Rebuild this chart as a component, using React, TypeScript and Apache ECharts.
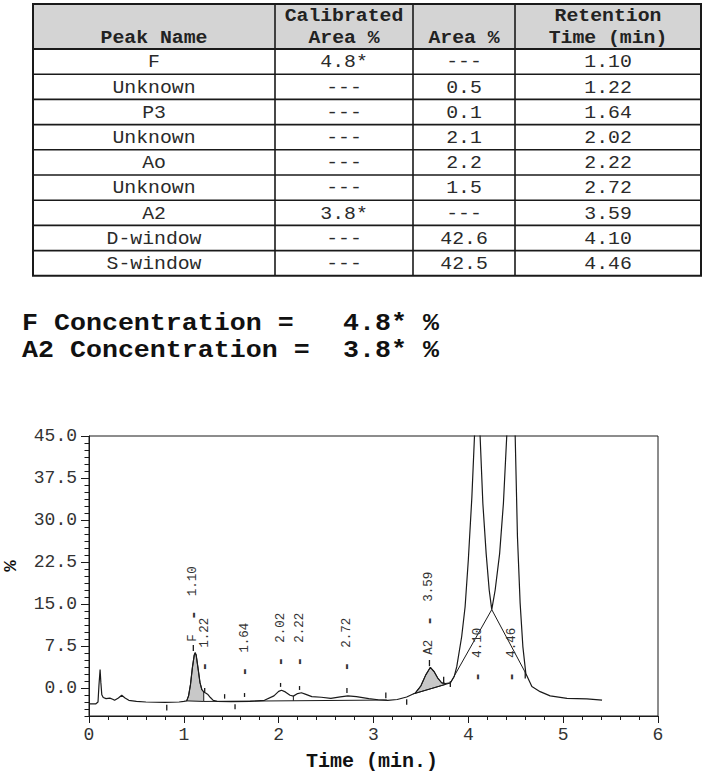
import React, { useEffect, useRef } from "react";
import * as echarts from "echarts";

// ---------- Table data ----------
const tablePeakNames = ["F", "Unknown", "P3", "Unknown", "Ao", "Unknown", "A2", "D-window", "S-window"];
const tableCalibrated = ["4.8*", "---", "---", "---", "---", "---", "3.8*", "---", "---"];
const tableArea = ["---", "0.5", "0.1", "2.1", "2.2", "1.5", "---", "42.6", "42.5"];
const tableRetention = ["1.10", "1.22", "1.64", "2.02", "2.22", "2.72", "3.59", "4.10", "4.46"];

// ---------- Concentrations ----------
const concLabels = ["F Concentration =", "A2 Concentration ="];
const concValues = ["4.8* %", "3.8* %"];

// ---------- Axis ticks / titles ----------
const yTickValues = [0, 7.5, 15, 22.5, 30, 37.5, 45];
const xAxisTitle = "Time (min.)";
const yAxisTitle = "%";

// ---------- Chromatogram trace ----------
const traceTime = [0, 0.07, 0.095, 0.105, 0.117, 0.125, 0.135, 0.15, 0.18, 0.22, 0.25, 0.27, 0.31, 0.345, 0.38, 0.42, 0.5, 0.6, 0.8, 0.95,
  1.0, 1.03, 1.05, 1.07, 1.09, 1.11, 1.12, 1.13, 1.15, 1.17, 1.19, 1.21, 1.23, 1.25, 1.28, 1.31, 1.35, 1.5, 1.7, 1.85,
  1.95, 2.0, 2.03, 2.07, 2.12, 2.155, 2.2, 2.24, 2.28, 2.35, 2.45, 2.55, 2.65, 2.73, 2.82, 2.95, 3.05, 3.15, 3.25, 3.35,
  3.44, 3.5, 3.55, 3.6, 3.64, 3.68, 3.72, 3.76, 3.81, 3.85, 3.878, 3.93, 3.966, 4.0, 4.037, 4.065, 4.095, 4.124, 4.153, 4.188,
  4.22, 4.247, 4.283, 4.33, 4.37, 4.405, 4.45, 4.494, 4.518, 4.546, 4.575, 4.606, 4.67, 4.757, 4.863, 5.04, 5.25, 5.41];
const traceValue = [-2.85, -2.85, -2.5, 0.5, 3.3, 1.0, -1.2, -1.7, -1.9, -1.8, -2.0, -2.2, -1.8, -1.3, -1.8, -2.2, -2.4, -2.5, -2.55, -2.5,
  -2.4, -2.3, -1.4, 0.6, 3.6, 5.9, 6.3, 5.9, 3.5, 1.0, -0.3, -0.7, -0.9, -1.1, -1.7, -2.2, -2.4, -2.45, -2.4, -2.2,
  -1.4, -0.6, -0.4, -0.7, -1.3, -1.45, -1.0, -0.85, -1.1, -1.55, -1.65, -1.85, -1.6, -1.4, -1.55, -1.9, -2.1, -2.2, -2.05, -1.6,
  -0.9, 0.4, 2.3, 3.7, 2.9, 1.7, 0.9, 0.8, 0.9, 2.0, 3.8, 9.2, 14.5, 22.9, 34, 45, 95, 45, 33, 24,
  17.5, 14, 17.5, 24, 33, 45, 95, 45, 27, 15.2, 7.4, 2.6, 0.25, -0.65, -1.4, -1.85, -1.95, -2.15];

// ---------- Integration baselines ----------
const baselineSegments: number[][][] = [
  [[1.21, -2.4], [3.14, -2.15]],
  [[2.155, -1.45], [2.155, -2.28]],
  [[3.42, -1.05], [3.81, 0.9]],
  [[3.81, 0.9], [4.247, 14], [4.606, 2.6]],
];

// ---------- Shaded (calibrated) peaks ----------
const shadeStart = [1.03, 3.44];
const shadeEnd = [1.21, 3.76];
const shadeBaseStart = [-2.3, -0.95];
const shadeBaseEnd = [-2.4, 0.65];

// ---------- Peak labels ----------
const peakRT = [1.10, 1.22, 1.64, 2.02, 2.22, 2.72, 3.59, 4.10, 4.46];
const peakRTText = ["1.10", "1.22", "1.64", "2.02", "2.22", "2.72", "3.59", "4.10", "4.46"];
const peakLabelName = ["F", "", "", "", "", "", "A2", "", ""];
const peakDashLevel = [13.0, 3.8, 2.9, 4.7, 4.7, 3.8, 12.0, 2.0, 2.0];
const apexTickTop: (number | null)[] = [7.7, 0.0, -0.9, 0.9, 0.35, 0.0, 5.0, null, null];
const apexTickBottom: (number | null)[] = [6.6, -0.7, -1.6, 0.2, -0.35, -0.9, 3.9, null, null];

// ---------- Integration event marks ----------
const eventTime = [0.82, 1.43, 1.54, 3.13, 3.35, 3.74, 3.81, 4.6];
const eventTop = [-3.0, -1.1, -2.9, -0.8, -2.0, 2.0, 1.2, 2.9];
const eventBottom = [-4.0, -1.9, -3.8, -1.85, -3.0, 0.9, 0.2, 1.7];

const MONO = "Liberation Mono";
const INK = "#1a1a1a";

function buildGraphic() {
  const els: any[] = [];
  const L = 33, R = 701, T = 4, HB = 49, RH = 25.2;
  const B = HB + RH * tablePeakNames.length;
  const cols = [33, 275, 413, 515, 701];
  els.push({ type: "rect", shape: { x: L, y: T, width: R - L, height: HB - T }, style: { fill: "#d4d4d4" } });
  for (let i = 1; i < tablePeakNames.length; i++) {
    const y = HB + RH * i;
    els.push({ type: "line", shape: { x1: L, y1: y, x2: R, y2: y }, style: { stroke: INK, lineWidth: 1.6 } });
  }
  els.push({ type: "line", shape: { x1: L, y1: HB, x2: R, y2: HB }, style: { stroke: INK, lineWidth: 2 } });
  for (let c = 1; c < cols.length - 1; c++) {
    els.push({ type: "line", shape: { x1: cols[c], y1: T, x2: cols[c], y2: B }, style: { stroke: INK, lineWidth: 1.6 } });
  }
  els.push({ type: "rect", shape: { x: L, y: T, width: R - L, height: B - T }, style: { fill: "none", stroke: INK, lineWidth: 2 } });

  const centers = cols.slice(0, -1).map((c, i) => (c + cols[i + 1]) / 2);
  const headTxt = (text: string, x: number, y: number) => ({
    type: "text", x, y, scaleX: 1.1,
    style: { text, fontFamily: MONO, fontSize: 18, fontWeight: "bold", fill: "#222", align: "center", textAlign: "center", verticalAlign: "middle", textVerticalAlign: "middle" },
  });
  els.push(headTxt("Peak Name", centers[0], 38));
  els.push(headTxt("Calibrated", centers[1], 16));
  els.push(headTxt("Area %", centers[1], 38));
  els.push(headTxt("Area %", centers[2], 38));
  els.push(headTxt("Retention", centers[3], 16));
  els.push(headTxt("Time (min)", centers[3], 38));

  const rows = [tablePeakNames, tableCalibrated, tableArea, tableRetention];
  for (let r = 0; r < tablePeakNames.length; r++) {
    const y = HB + RH * r + RH / 2 + 1;
    rows.forEach((col, c) => {
      els.push({
        type: "text", x: centers[c], y, scaleX: 1.1,
        style: { text: col[r], fontFamily: MONO, fontSize: 18, fill: "#2a2a2a", align: "center", textAlign: "center", verticalAlign: "middle", textVerticalAlign: "middle" },
      });
    });
  }

  const concY = [324, 351];
  concLabels.forEach((t, i) => {
    els.push({
      type: "text", x: 22, y: concY[i], scaleX: 1.11,
      style: { text: t, fontFamily: MONO, fontSize: 24, fontWeight: "bold", fill: "#111", align: "left", textAlign: "left", verticalAlign: "middle", textVerticalAlign: "middle" },
    });
    els.push({
      type: "text", x: 343, y: concY[i], scaleX: 1.11,
      style: { text: concValues[i], fontFamily: MONO, fontSize: 24, fontWeight: "bold", fill: "#111", align: "left", textAlign: "left", verticalAlign: "middle", textVerticalAlign: "middle" },
    });
  });

  els.push({
    type: "text", x: 11, y: 566, rotation: Math.PI / 2,
    style: { text: yAxisTitle, fontFamily: MONO, fontSize: 19, fontWeight: "bold", fill: "#111", align: "center", textAlign: "center", verticalAlign: "middle", textVerticalAlign: "middle" },
  });
  els.push({
    type: "text", x: 372, y: 761,
    style: { text: xAxisTitle, fontFamily: MONO, fontSize: 20, fontWeight: "bold", fill: "#111", align: "center", textAlign: "center", verticalAlign: "middle", textVerticalAlign: "middle" },
  });
  return els;
}

function buildOption(): any {
  const trace = traceTime.map((t, i) => [t, traceValue[i]]);
  const labelFont = { fontFamily: MONO, fontSize: 12.5, fill: "#333" };

  const series: any[] = [];

  series.push({
    type: "custom", name: "shaded", xAxisIndex: 0, yAxisIndex: 0, z: 2, silent: true,
    data: shadeStart.map((s, i) => [s, shadeBaseStart[i], i]),
    renderItem: (_p: any, api: any) => {
      const i = api.value(2);
      const s = shadeStart[i], e = shadeEnd[i];
      const pts: number[][] = [api.coord([s, shadeBaseStart[i]])];
      traceTime.forEach((t, k) => {
        if (t >= s - 1e-9 && t <= e + 1e-9) pts.push(api.coord([t, traceValue[k]]));
      });
      pts.push(api.coord([e, shadeBaseEnd[i]]));
      return { type: "polygon", shape: { points: pts }, style: { fill: "#c8c8c8", stroke: INK, lineWidth: 1 } };
    },
  });

  series.push({
    type: "line", name: "trace", data: trace, symbol: "none", z: 3, clip: true, silent: true,
    lineStyle: { color: INK, width: 1.2 },
  });

  baselineSegments.forEach((seg, i) => {
    series.push({
      type: "line", name: "baseline" + i, data: seg, symbol: "none", z: 3, silent: true,
      lineStyle: { color: INK, width: 1 },
    });
  });

  series.push({
    type: "custom", name: "events", xAxisIndex: 0, yAxisIndex: 0, z: 4, silent: true, clip: false,
    data: eventTime.map((t, i) => [t, eventTop[i], eventBottom[i]]),
    renderItem: (_p: any, api: any) => {
      const a = api.coord([api.value(0), api.value(1)]);
      const b = api.coord([api.value(0), api.value(2)]);
      return { type: "line", shape: { x1: a[0], y1: a[1], x2: b[0], y2: b[1] }, style: { stroke: INK, lineWidth: 1.3 } };
    },
  });

  series.push({
    type: "custom", name: "peakLabels", xAxisIndex: 0, yAxisIndex: 0, z: 5, silent: true, clip: false,
    data: peakRT.map((t, i) => [t, peakDashLevel[i], i]),
    renderItem: (_p: any, api: any) => {
      const i = api.value(2);
      const t = api.value(0);
      const p = api.coord([t, api.value(1)]);
      const children: any[] = [];
      children.push({
        type: "text", x: p[0], y: p[1], rotation: Math.PI / 2,
        style: { text: "-", ...labelFont, fontSize: 17, fontWeight: "bold", align: "center", textAlign: "center", verticalAlign: "middle", textVerticalAlign: "middle" },
      });
      children.push({
        type: "text", x: p[0], y: p[1] - 19, rotation: Math.PI / 2,
        style: { text: peakRTText[i], ...labelFont, align: "left", textAlign: "left", verticalAlign: "middle", textVerticalAlign: "middle" },
      });
      if (peakLabelName[i]) {
        children.push({
          type: "text", x: p[0], y: p[1] + 19, rotation: Math.PI / 2,
          style: { text: peakLabelName[i], ...labelFont, align: "right", textAlign: "right", verticalAlign: "middle", textVerticalAlign: "middle" },
        });
      }
      const tt = apexTickTop[i], tb = apexTickBottom[i];
      if (tt != null && tb != null) {
        const a = api.coord([t, tt]);
        const b = api.coord([t, tb]);
        children.push({ type: "line", shape: { x1: a[0], y1: a[1], x2: b[0], y2: b[1] }, style: { stroke: INK, lineWidth: 1.3 } });
      }
      return { type: "group", children };
    },
  });

  return {
    animation: false,
    backgroundColor: "#ffffff",
    grid: { left: 89, right: 50, top: 436, bottom: 59, show: true, borderColor: INK, borderWidth: 1, backgroundColor: "transparent", containLabel: false, outerBoundsMode: "none" },
    xAxis: [{
      type: "value", min: 0, max: 6, interval: 1, position: "bottom",
      axisLine: { show: true, onZero: false, lineStyle: { color: INK, width: 1 } },
      axisTick: { show: true, length: 7, lineStyle: { color: INK } },
      minorTick: { show: true, splitNumber: 5, length: 4, lineStyle: { color: INK } },
      axisLabel: { fontFamily: MONO, fontSize: 18, color: "#333", margin: 10 },
      splitLine: { show: false }, minorSplitLine: { show: false },
    }],
    yAxis: [{
      type: "value", min: -5, max: 45, interval: 1.25, position: "left",
      axisLine: { show: true, onZero: false, lineStyle: { color: INK, width: 1 } },
      axisTick: { show: true, length: 4.5, lineStyle: { color: INK } },
      axisLabel: { show: true, customValues: yTickValues, formatter: (v: number) => v.toFixed(1), fontFamily: MONO, fontSize: 18, color: "#333", margin: 12 },
      splitLine: { show: false },
    }, {
      type: "value", min: -5, max: 45, position: "left", offset: 0,
      axisLine: { show: false, onZero: false },
      axisTick: { show: true, customValues: yTickValues, length: 8, lineStyle: { color: INK } },
      axisLabel: { show: false },
      splitLine: { show: false },
    }],
    graphic: buildGraphic(),
    series,
  };
}

export default function App() {
  const ref = useRef<HTMLDivElement>(null);
  useEffect(() => {
    document.body.style.margin = "0";
    const chart = echarts.init(ref.current as HTMLDivElement, null, { renderer: "svg" });
    chart.setOption(buildOption());
    return () => chart.dispose();
  }, []);
  return <div ref={ref} style={{ width: 708, height: 775 }} />;
}
